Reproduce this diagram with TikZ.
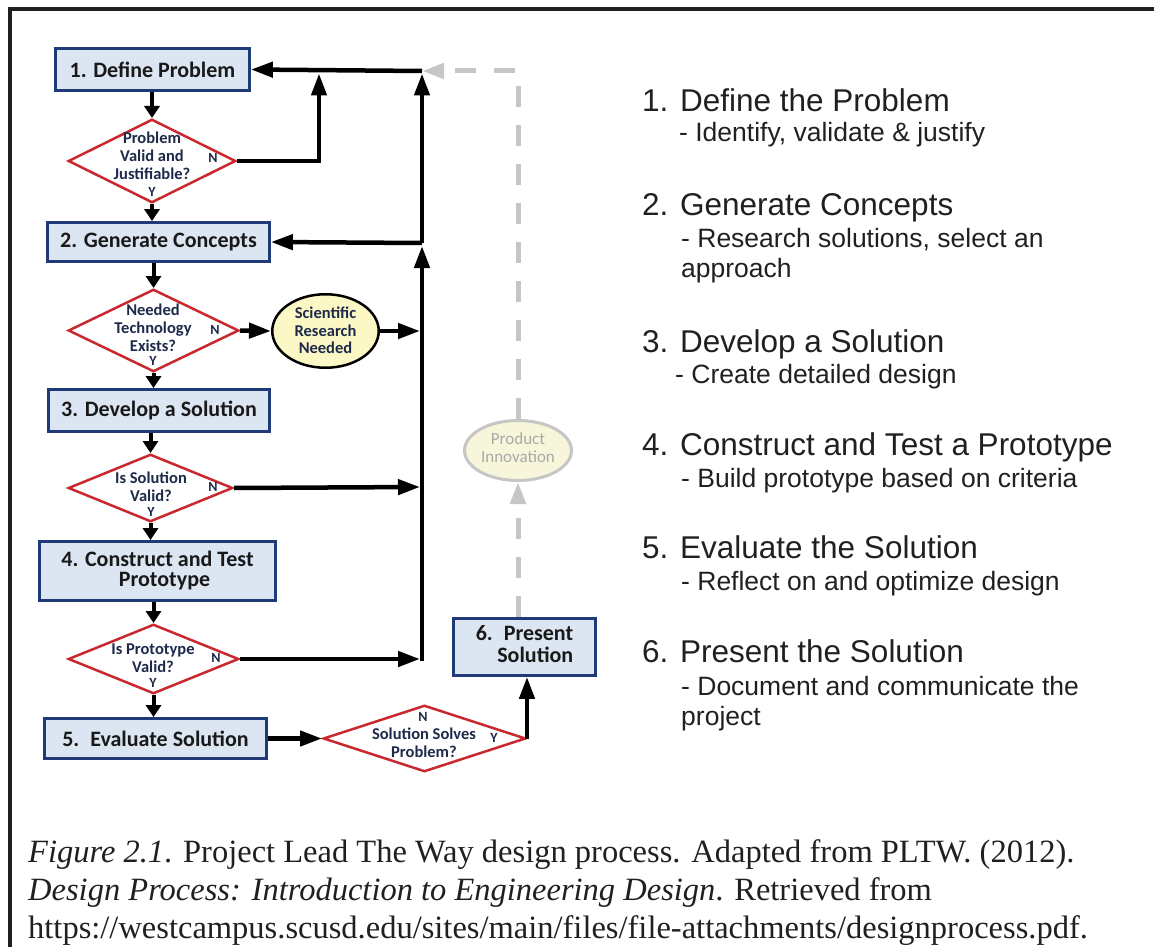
\documentclass[tikz,border=0pt]{standalone}
\usepackage{fontspec}
\setmainfont{Liberation Serif}
\newfontfamily\arialf{Liberation Sans}
\newfontfamily\calf{Carlito}
\usetikzlibrary{shapes.geometric,arrows.meta}
\definecolor{boxfill}{HTML}{DCE6F2}
\definecolor{boxdraw}{HTML}{203A78}
\definecolor{diared}{HTML}{C8282E}
\definecolor{navytext}{HTML}{1E2A4A}
\definecolor{sciyellow}{HTML}{FCF8C6}
\definecolor{piyellow}{HTML}{F8F6DA}
\definecolor{pigray}{HTML}{C6C6C6}
\definecolor{pitext}{HTML}{A9A9A9}
\definecolor{ink}{HTML}{231F20}
\begin{document}
\begin{tikzpicture}[x=1pt,y=-1pt,
  stepbox/.style={draw=boxdraw, fill=boxfill, line width=2.8pt, rectangle, inner sep=0pt, align=center, font=\calf\bfseries\fontsize{22}{20}\selectfont, text=black!90},
  diabox/.style={draw=diared, fill=white, line width=2.5pt, diamond, inner sep=0pt},
  diatext/.style={inner sep=0pt, align=center, text=navytext, font=\calf\bfseries\fontsize{16.5}{18}\selectfont},
  yntext/.style={inner sep=0pt, text=navytext, font=\calf\bfseries\fontsize{14}{14}\selectfont},
  flowarrow/.style={line width=4.5pt, draw=black, -{Triangle[length=22pt,width=15pt]}},
  shortarrow/.style={line width=4pt, draw=black, -{Triangle[length=12pt,width=15pt]}},
  ghostarrow/.style={line width=5pt, draw=pigray, dash pattern=on 21pt off 18pt, -{Triangle[length=22pt,width=15pt]}},
  headtxt/.style={anchor=base west, inner sep=0pt, text=ink, font=\arialf\fontsize{31.5}{36}\selectfont},
  subtxt/.style={anchor=base west, inner sep=0pt, text=ink, font=\arialf\fontsize{26.5}{30}\selectfont},
  captxt/.style={anchor=base west, inner sep=0pt, text=ink, font=\fontsize{32.5}{38}\selectfont},
]
\useasboundingbox (0,0) rectangle (1154,947);
% frame
\draw[ink, line width=4pt] (10,947) -- (10,9) -- (1154,9);

% boxes
\node[stepbox, minimum width=194, minimum height=42] (b1) at (152.5,69.5) {1. Define Problem};
\node[stepbox, minimum width=222, minimum height=39] (b2) at (158.5,242) {2. Generate Concepts};
\node[stepbox, minimum width=221, minimum height=42] (b3) at (159,410.5) {3. Develop a Solution};
\node[stepbox, minimum width=236, minimum height=59] (b4) at (157.5,571) {4. Construct and Test\\\hspace*{14pt}Prototype};
\node[stepbox, minimum width=222, minimum height=40] (b5) at (155.5,738.5) {5.\enspace Evaluate Solution};
\node[stepbox, minimum width=142, minimum height=57] (b6) at (524.5,647) {\begin{tabular}{@{}r@{}}6.\enspace Present\\Solution\end{tabular}};

% diamonds
\node[diabox, minimum width=167.5, minimum height=83.5] (d1) at (152,161) {};
\node[diabox, minimum width=170.5, minimum height=82.5] (d2) at (153.5,330.5) {};
\node[diabox, minimum width=164.5, minimum height=67.5] (d3) at (150.5,488) {};
\node[diabox, minimum width=170.5, minimum height=69.5] (d4) at (153.5,659) {};
\node[diabox, minimum width=202.5, minimum height=66.5] (d5) at (424.5,738.5) {};

\node[diatext] (t1) at (152,156) {Problem\\Valid and\\Justifiable?};
\node[yntext] (y1) at (152,192) {Y};
\node[yntext] (n1l) at (213,158) {N};
\node[diatext] (t2) at (153,328) {Needed\\Technology\\Exists?};
\node[yntext] (y2) at (153,361) {Y};
\node[yntext] (n2l) at (215,330) {N};
\node[diatext] (t3) at (151,487) {Is Solution\\Valid?};
\node[yntext] (y3) at (151,512) {Y};
\node[yntext] (n3l) at (213,487) {N};
\node[diatext] (t4) at (153,658.5) {Is Prototype\\Valid?};
\node[yntext] (y4) at (153,683) {Y};
\node[yntext] (n4l) at (216,658) {N};
\node[diatext] (t5) at (424,743) {Solution Solves\\Problem?};
\node[yntext] (n5l) at (423,717) {N};
\node[yntext] (y5l) at (494,738) {Y};

% ellipses
\node[ellipse, draw=black, fill=sciyellow, line width=2.5pt, minimum width=106.5, minimum height=73.5, inner sep=0pt] (sci) at (325.5,331) {};
\node[diatext, font=\calf\bfseries\fontsize{16.5}{17.5}\selectfont] (scit) at (325.5,330.5) {Scientific\\Research\\Needed};
\node[ellipse, draw=pigray, fill=piyellow, line width=3pt, minimum width=107, minimum height=60, inner sep=0pt] (pi) at (518,450.5) {};
\node[diatext, text=pitext, font=\calf\fontsize{17}{18}\selectfont] (pit) at (518,448) {Product\\Innovation};

% junctions
\coordinate (jtop) at (422,71);
\coordinate (jtopin) at (422,73.5);
\coordinate (j2) at (422,243);
\coordinate (j2in) at (422,246);
\coordinate (j3) at (420,331);
\coordinate (j4) at (420,487);
\coordinate (j5) at (420,659);
\coordinate (jbot) at (422,661);
\coordinate (n1) at (319,73.5);

% gray dashed path
\draw[ghostarrow] (pi.north) |- (jtop);
\draw[ghostarrow] (pi.south |- b6.north) -- (pi.south);

% vertical flow
\draw[shortarrow] (b1.south -| d1.north) -- (d1.north);
\draw[shortarrow] (d1.south) -- (d1.south |- b2.north);
\draw[shortarrow] (b2.south -| d2.north) -- (d2.north);
\draw[shortarrow] (d2.south) -- (d2.south |- b3.north);
\draw[shortarrow] (b3.south -| d3.north) -- (d3.north);
\draw[shortarrow] (d3.south) -- (d3.south |- b4.north);
\draw[shortarrow] (b4.south -| d4.north) -- (d4.north);
\draw[shortarrow] (d4.south) -- (d4.south |- b5.north);

% return paths
\draw[flowarrow] (jtop) -- (b1.east);
\draw[flowarrow] (jbot) -- (j2in);
\draw[flowarrow] (j2) -- (jtopin);
\draw[flowarrow] (j2) -- (b2.east);
\draw[flowarrow] (d1.east) -| (n1);
\draw[flowarrow] (d2.east) -- (sci.west);
\draw[flowarrow] (sci.east) -- (j3);
\draw[flowarrow] (d3.east) -- (j4);
\draw[flowarrow] (d4.east) -- (j5);
\draw[flowarrow] (b5.east) -- (d5.west);
\draw[flowarrow] (d5.east) -- (d5.east |- b6.south);

% right column
\node[headtxt] (h1) at (642,112) {1. Define the Problem};
\node[subtxt] (s1) at (679,142) {- Identify, validate \& justify};
\node[headtxt] (h2) at (642,215) {2. Generate Concepts};
\node[subtxt] (s2) at (681,247) {- Research solutions, select an};
\node[subtxt] (s2b) at (681,277) {approach};
\node[headtxt] (h3) at (642,352) {3. Develop a Solution};
\node[subtxt] (s3) at (675,383) {- Create detailed design};
\node[headtxt] (h4) at (642,455) {4. Construct and Test a Prototype};
\node[subtxt] (s4) at (681,487) {- Build prototype based on criteria};
\node[headtxt] (h5) at (642,558) {5. Evaluate the Solution};
\node[subtxt] (s5) at (681,590) {- Reflect on and optimize design};
\node[headtxt] (h6) at (642,662) {6. Present the Solution};
\node[subtxt] (s6) at (681,695) {- Document and communicate the};
\node[subtxt] (s6b) at (681,725) {project};

% caption
\node[captxt] (c1) at (28,862) {\textit{Figure 2.1}. Project Lead The Way design process. Adapted from PLTW. (2012).};
\node[captxt] (c2) at (28,900) {\textit{Design Process: Introduction to Engineering Design}. Retrieved from};
\node[captxt] (c3) at (28,938) {https://westcampus.scusd.edu/sites/main/files/file-attachments/designprocess.pdf.};
\end{tikzpicture}
\end{document}
